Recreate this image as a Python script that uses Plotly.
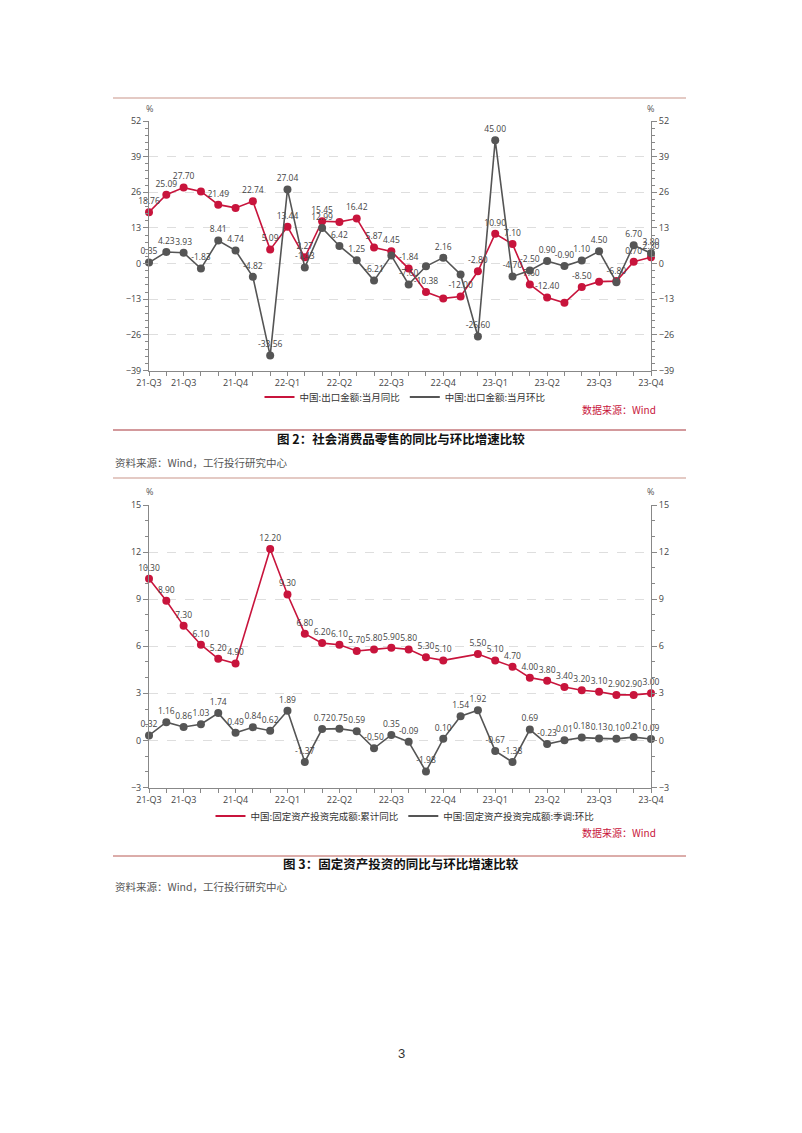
import plotly.graph_objects as go

# months on the x axis (Jul 2021 - Dec 2023)
months = ["2021-07", "2021-08", "2021-09", "2021-10", "2021-11", "2021-12",
          "2022-01", "2022-02", "2022-03", "2022-04", "2022-05", "2022-06",
          "2022-07", "2022-08", "2022-09", "2022-10", "2022-11", "2022-12",
          "2023-01", "2023-02", "2023-03", "2023-04", "2023-05", "2023-06",
          "2023-07", "2023-08", "2023-09", "2023-10", "2023-11", "2023-12"]
tick_text = ["21-Q3", "", "21-Q3", "", "", "21-Q4", "", "", "22-Q1", "", "", "22-Q2",
             "", "", "22-Q3", "", "", "22-Q4", "", "", "23-Q1", "", "", "23-Q2",
             "", "", "23-Q3", "", "", "23-Q4"]

# chart 1: exports
export_yoy = [18.76, 25.09, 27.70, 26.3, 21.49, 20.3, 22.74, 5.09, 13.44, 2.27,
              15.45, 15.2, 16.42, 5.87, 4.45, -1.84, -10.38, -12.7, -12.00, -2.80,
              10.90, 7.10, -7.60, -12.40, -14.3, -8.50, -6.6, -6.4, 0.70, 2.30]
export_yoy_nolabel = [3, 5, 11, 17, 24, 26, 27]
export_mom = [0.35, 4.23, 3.93, -1.83, 8.41, 4.74, -4.82, -33.56, 27.04, -1.43,
              12.99, 6.42, 1.25, -6.21, 2.9, -7.6, -1.0, 2.16, -4.0, -26.60,
              45.00, -4.70, -2.50, 0.90, -0.90, 1.10, 4.50, -6.80, 6.70, 3.80]
export_mom_nolabel = [14, 16, 18]

# chart 2: fixed asset investment
fai_ytd = [10.30, 8.90, 7.30, 6.10, 5.20, 4.90, None, 12.20, 9.30, 6.80,
           6.20, 6.10, 5.70, 5.80, 5.90, 5.80, 5.30, 5.10, None, 5.50,
           5.10, 4.70, 4.00, 3.80, 3.40, 3.20, 3.10, 2.90, 2.90, 3.00]
fai_mom = [0.32, 1.16, 0.86, 1.03, 1.74, 0.49, 0.84, 0.62, 1.89, -1.37,
           0.72, 0.75, 0.59, -0.50, 0.35, -0.09, -1.98, 0.10, 1.54, 1.92,
           -0.67, -1.38, 0.69, -0.23, 0.01, 0.18, 0.13, 0.10, 0.21, 0.09]

RED = "#c8143c"
GRAY = "#555555"
# the page body has an 8px margin, so the figure starts at (8, 8)
OFF = 8
W, H = 802 - OFF, 1133 - OFF
NUM_FONT = "Open Sans"
CJK_FONT = "Noto Sans CJK SC"


def px_x(x):
    return (x - OFF) / W


def px_y(y):
    return 1 - (y - OFF) / H


def labels(vals, hidden=()):
    return ["" if (v is None or i in hidden) else f"{v:.2f}" for i, v in enumerate(vals)]


def series(vals, color, xa, ya, hidden=()):
    return go.Scatter(
        x=months, y=vals, xaxis=xa, yaxis=ya,
        mode="lines+markers+text", text=labels(vals, hidden),
        textposition="top center",
        textfont=dict(family=NUM_FONT, size=8.5, color="#444"),
        line=dict(color=color, width=1.6),
        marker=dict(color=color, size=8),
        connectgaps=True, cliponaxis=False, showlegend=False,
    )


def legend_item(name, color, legend):
    return go.Scatter(x=[None], y=[None], mode="lines", name=name,
                      line=dict(color=color, width=2), legend=legend)


fig = go.Figure()
fig.add_trace(series(export_yoy, RED, "x", "y", export_yoy_nolabel))
fig.add_trace(series(export_mom, GRAY, "x", "y2", export_mom_nolabel))
fig.add_trace(legend_item("中国:出口金额:当月同比", RED, "legend"))
fig.add_trace(legend_item("中国:出口金额:当月环比", GRAY, "legend"))

fig.add_trace(series(fai_ytd, RED, "x2", "y3"))
fig.add_trace(series(fai_mom, GRAY, "x2", "y4"))
fig.add_trace(legend_item("中国:固定资产投资完成额:累计同比", RED, "legend2"))
fig.add_trace(legend_item("中国:固定资产投资完成额:季调:环比", GRAY, "legend2"))

xdom = [px_x(149), px_x(651)]
tickfont = dict(family=NUM_FONT, size=9, color="#444")


def xaxis_cfg(anchor):
    return dict(domain=xdom, anchor=anchor, type="category", range=[0, 29],
                tickmode="array", tickvals=months, ticktext=tick_text,
                ticks="outside", ticklen=4, tickcolor="#888",
                showline=True, linecolor="#888", linewidth=1,
                showgrid=False, tickfont=tickfont, fixedrange=True,
                automargin=False)


def yaxis_cfg(dom, rng, dtick, minor, anchor, side="left", overlay=None):
    cfg = dict(domain=dom, range=rng, dtick=dtick, tick0=rng[0], side=side,
               anchor=anchor, automargin=False,
               ticks="outside", ticklen=5, tickcolor="#888",
               showline=True, linecolor="#888", linewidth=1,
               zeroline=False, tickfont=tickfont,
               minor=dict(dtick=minor, ticks="outside", ticklen=3,
                          tickcolor="#888", showgrid=False))
    if overlay:
        cfg.update(overlaying=overlay, showgrid=False)
    else:
        cfg.update(showgrid=True, gridcolor="#dedede", griddash="dash", gridwidth=1)
    return cfg


dom1 = [px_y(370.5), px_y(121)]
dom2 = [px_y(787.5), px_y(505)]

y1 = yaxis_cfg(dom1, [-39, 52], 13, 2.6, "x")
y2 = yaxis_cfg(dom1, [-39, 52], 13, 2.6, "x", side="right", overlay="y")
y3 = yaxis_cfg(dom2, [-3, 15], 3, 1, "x2")
y4 = yaxis_cfg(dom2, [-3, 15], 3, 1, "x2", side="right", overlay="y3")

annotations = []


def text(x, y, s, size, color, xanchor="center", family=CJK_FONT):
    annotations.append(dict(x=px_x(x), y=px_y(y), xref="paper", yref="paper",
                            text=s, showarrow=False, xanchor=xanchor, yanchor="middle",
                            font=dict(family=family, size=size, color=color)))


for top in (108, 491):
    text(149, top, "%", 9, "#555", family=NUM_FONT)
    text(650, top, "%", 9, "#555", family=NUM_FONT)

text(658, 410, "数据来源：Wind", 10, "#c8143c", xanchor="right")
text(658, 832, "数据来源：Wind", 10, "#c8143c", xanchor="right")
text(401, 438, "<b>图 2：社会消费品零售的同比与环比增速比较</b>", 12.5, "#111")
text(401, 864, "<b>图 3：固定资产投资的同比与环比增速比较</b>", 12.5, "#111")
text(113, 463, "资料来源：Wind，工行投行研究中心", 10.5, "#555", xanchor="left")
text(113, 886, "资料来源：Wind，工行投行研究中心", 10.5, "#555", xanchor="left")
text(401, 1053, "3", 13, "#333", family="Liberation Sans")

shapes = []
for yy, col, wd in [(98, "#dbb9b0", 1.5), (430, "#a8343a", 1.2),
                    (478, "#dbb9b0", 1.5), (856, "#b85a55", 1.0)]:
    shapes.append(dict(type="line", xref="paper", yref="paper",
                       x0=px_x(113), x1=px_x(686), y0=px_y(yy), y1=px_y(yy),
                       line=dict(color=col, width=wd)))

legend_font = dict(family=CJK_FONT, size=9.5, color="#333")

fig.update_layout(
    width=W, height=H,
    margin=dict(l=0, r=0, t=0, b=0, pad=0, autoexpand=False),
    paper_bgcolor="white", plot_bgcolor="white",
    xaxis=xaxis_cfg("y"), yaxis=y1, yaxis2=y2,
    xaxis2=xaxis_cfg("y3"), yaxis3=y3, yaxis4=y4,
    legend=dict(orientation="h", x=0.5, xanchor="center", y=px_y(397),
                yanchor="middle", font=legend_font, itemwidth=30,
                bgcolor="rgba(0,0,0,0)"),
    legend2=dict(orientation="h", x=0.5, xanchor="center", y=px_y(816),
                 yanchor="middle", font=legend_font, itemwidth=30,
                 bgcolor="rgba(0,0,0,0)"),
    annotations=annotations,
    shapes=shapes,
)

fig.write_html("out.html")
